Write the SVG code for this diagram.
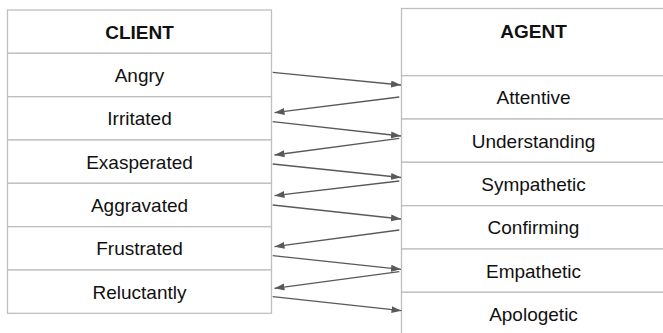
<svg xmlns="http://www.w3.org/2000/svg" width="663" height="333" viewBox="0 0 663 333">
<style>
.box{fill:#fff;stroke:#bfbfbf;stroke-width:1.3}
.t{font-family:"Liberation Sans",Arial,sans-serif;font-size:19px;fill:#111;text-anchor:middle}
.h{font-weight:bold}
.c line{stroke:#595959;stroke-width:1.3;marker-end:url(#ah)}
</style>
<defs>
<marker id="ah" markerUnits="userSpaceOnUse" markerWidth="11" markerHeight="8" refX="10" refY="3.5" orient="auto">
<path d="M0,0 L10,3.5 L0,7 z" fill="#595959"/>
</marker>
</defs>
<rect width="663" height="333" fill="#fff"/>
<g id="client">
<g id="client-header"><rect class="box" x="7.5" y="10" width="264" height="43.3"/><text class="t h" x="139.5" y="39">CLIENT</text></g>
<g id="angry"><rect class="box" x="7.5" y="53.3" width="264" height="43.4"/><text class="t" x="139.5" y="82">Angry</text></g>
<g id="irritated"><rect class="box" x="7.5" y="96.7" width="264" height="43.3"/><text class="t" x="139.5" y="125">Irritated</text></g>
<g id="exasperated"><rect class="box" x="7.5" y="140" width="264" height="43.3"/><text class="t" x="139.5" y="168.5">Exasperated</text></g>
<g id="aggravated"><rect class="box" x="7.5" y="183.3" width="264" height="43.4"/><text class="t" x="139.5" y="212">Aggravated</text></g>
<g id="frustrated"><rect class="box" x="7.5" y="226.7" width="264" height="43.3"/><text class="t" x="139.5" y="255">Frustrated</text></g>
<g id="reluctantly"><rect class="box" x="7.5" y="270" width="264" height="43.3"/><text class="t" x="139.5" y="298.5">Reluctantly</text></g>
</g>
<g id="agent">
<g id="agent-header"><rect class="box" x="401.5" y="8.5" width="264" height="67.2"/><text class="t h" x="533.5" y="38">AGENT</text></g>
<g id="attentive"><rect class="box" x="401.5" y="75.7" width="264" height="43.3"/><text class="t" x="533.5" y="104.3">Attentive</text></g>
<g id="understanding"><rect class="box" x="401.5" y="119" width="264" height="43.3"/><text class="t" x="533.5" y="147.6">Understanding</text></g>
<g id="sympathetic"><rect class="box" x="401.5" y="162.3" width="264" height="43.4"/><text class="t" x="533.5" y="191">Sympathetic</text></g>
<g id="confirming"><rect class="box" x="401.5" y="205.7" width="264" height="43.3"/><text class="t" x="533.5" y="234.3">Confirming</text></g>
<g id="empathetic"><rect class="box" x="401.5" y="249" width="264" height="43.3"/><text class="t" x="533.5" y="277.6">Empathetic</text></g>
<g id="apologetic"><rect class="box" x="401.5" y="292.3" width="264" height="43.4"/><text class="t" x="533.5" y="321">Apologetic</text></g>
</g>
<g id="connectors" class="c">
<line x1="272.7" y1="72.3" x2="401" y2="85"/>
<line x1="399.3" y1="97" x2="274.5" y2="112.7"/>
<line x1="272.7" y1="121.7" x2="401" y2="136"/>
<line x1="399.3" y1="138.3" x2="274.5" y2="155"/>
<line x1="272.7" y1="164" x2="401" y2="177.5"/>
<line x1="399.3" y1="181" x2="274.5" y2="195.7"/>
<line x1="272.7" y1="205" x2="401" y2="219"/>
<line x1="399.3" y1="230" x2="274.5" y2="246.7"/>
<line x1="272.7" y1="255.7" x2="401" y2="269.3"/>
<line x1="399.3" y1="271.7" x2="274.5" y2="288.3"/>
<line x1="272.7" y1="296.7" x2="401.5" y2="310.7"/>
</g>
</svg>
